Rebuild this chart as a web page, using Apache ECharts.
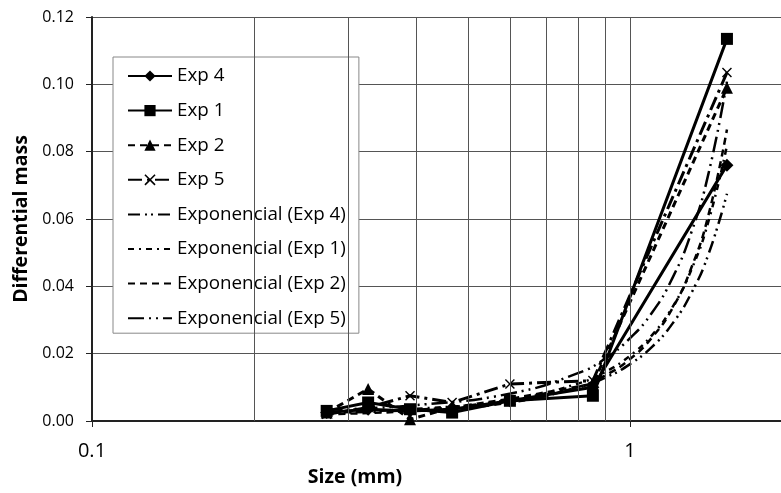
<!DOCTYPE html>
<html>
<head>
<meta charset="utf-8">
<script src="https://cdn.jsdelivr.net/npm/echarts@6/dist/echarts.min.js"></script>
<style>
html,body{margin:0;padding:0;background:#fff;}
#chart{width:781px;height:493px;}
</style>
</head>
<body>
<div id="chart"></div>
<script>
// Sizes (mm) of the measured points
var sizes = [0.273, 0.326, 0.39, 0.467, 0.598, 0.853, 1.514];
// Differential mass per experiment
var exp4 = [0.0025, 0.0035, 0.003, 0.0035, 0.006, 0.010, 0.076];
var exp1 = [0.003, 0.0055, 0.0035, 0.0025, 0.006, 0.0075, 0.1135];
var exp2 = [0.0025, 0.0095, 0.0005, 0.004, 0.0065, 0.011, 0.099];
var exp5 = [0.002, 0.004, 0.0075, 0.0055, 0.011, 0.012, 0.1035];
// Exponential trendlines at these sizes. The curves overlap too much in the picture
// to read one by one, so these values were worked out by hand from an exponential fit
// to the estimated points above, then checked against the picture (not read directly).
var trendSizes = [0.273, 0.4, 0.6, 0.8, 0.9, 1.0, 1.1, 1.2, 1.3, 1.4, 1.514];
var trend4 = [0.00239, 0.00336, 0.00575, 0.00986, 0.0129, 0.0169, 0.0221, 0.0290, 0.0380, 0.0497, 0.0675];
var trend1 = [0.00252, 0.00360, 0.00631, 0.0111, 0.0146, 0.0194, 0.0256, 0.0339, 0.0449, 0.0595, 0.0818];
var trend2 = [0.00206, 0.00302, 0.00552, 0.0101, 0.0136, 0.0184, 0.0249, 0.0336, 0.0455, 0.0614, 0.0866];
var trend5 = [0.00333, 0.00472, 0.00818, 0.0142, 0.0186, 0.0246, 0.0323, 0.0426, 0.0560, 0.0737, 0.1008];
// Vertical grid lines on the log axis
var xGridValues = [0.2, 0.3, 0.4, 0.5, 0.6, 0.7, 0.8, 0.9, 1, 2];
var xTickLabels = {"0.1": "0.1", "1": "1"};
var dataNames = ['Exp 4', 'Exp 1', 'Exp 2', 'Exp 5'];
var trendNames = ['Exponencial (Exp 4)', 'Exponencial (Exp 1)', 'Exponencial (Exp 2)', 'Exponencial (Exp 5)'];

function pairs(xs, ys) { return xs.map(function (x, i) { return [x, ys[i]]; }); }

var FONT = '"Open Sans"';
var X_SYMBOL = 'path://M0,1L1,0L5,4L9,0L10,1L6,5L10,9L9,10L5,6L1,10L0,9L4,5Z';

function dataSeries(name, ys, symbol, size, dash) {
  return {
    name: name, type: 'line', data: pairs(sizes, ys),
    symbol: symbol, symbolSize: size, showSymbol: true,
    itemStyle: { color: '#000' },
    lineStyle: { color: '#000', width: 3, type: dash },
    z: 3, animation: false
  };
}
function trendSeries(name, ys, dash) {
  return {
    name: name, type: 'line', data: pairs(trendSizes, ys),
    symbol: 'none', smooth: true,
    itemStyle: { color: '#000' },
    lineStyle: { color: '#000', width: 2.5, type: dash },
    z: 2, animation: false
  };
}

var series = [
  dataSeries(dataNames[0], exp4, 'diamond', 13, 'solid'),
  dataSeries(dataNames[1], exp1, 'rect', 12, 'solid'),
  dataSeries(dataNames[2], exp2, 'triangle', 12, [7, 5]),
  dataSeries(dataNames[3], exp5, X_SYMBOL, 10, [14, 5, 3, 5]),
  trendSeries(trendNames[0], trend4, [12, 5, 2, 4, 2, 5]),
  trendSeries(trendNames[1], trend1, [6, 5, 2, 5]),
  trendSeries(trendNames[2], trend2, [7, 5]),
  trendSeries(trendNames[3], trend5, [16, 5, 2, 5, 2, 5])
];
// grid lines helper
series.push({
  type: 'line', data: [], silent: true, z: 1,
  markLine: {
    silent: true, symbol: 'none', animation: false,
    label: { show: false },
    lineStyle: { color: '#555', width: 1, type: 'solid' },
    data: xGridValues.map(function (v) { return { xAxis: v }; })
  }
});

var legendData = dataNames.map(function (n) { return { name: n }; })
  .concat(trendNames.map(function (n) {
    return { name: n, itemStyle: { opacity: 0, color: 'rgba(0,0,0,0)', borderWidth: 0 } };
  }));

var chart = echarts.init(document.getElementById('chart'), null, { renderer: 'canvas' });
chart.setOption({
  backgroundColor: '#fff',
  animation: false,
  textStyle: { fontFamily: FONT },
  grid: { left: 92, top: 17, right: -11, bottom: 72, outerBoundsMode: 'none' },
  legend: {
    orient: 'vertical', left: 113, top: 57,
    padding: [9, 13, 5, 14],
    itemWidth: 44, itemHeight: 14, itemGap: 14.6,
    backgroundColor: '#fff', borderColor: '#888', borderWidth: 1,
    textStyle: { fontFamily: FONT, fontSize: 18.8, color: '#000', lineHeight: 20 },
    data: legendData
  },
  xAxis: {
    type: 'log', min: 0.1, max: 2, logBase: 10,
    name: 'Size (mm)', nameLocation: 'middle', nameGap: 46,
    nameTextStyle: { fontFamily: FONT, fontSize: 19.5, fontWeight: 'bold', color: '#000', padding: [0, 174, 0, 0] },
    axisLine: { show: true, lineStyle: { color: '#222', width: 2 } },
    axisTick: { show: true, length: 6, lineStyle: { color: '#222', width: 1 } },
    axisLabel: {
      fontFamily: FONT, fontSize: 20, color: '#000', margin: 20,
      formatter: function (v) {
        var k = String(Math.round(v * 1000) / 1000);
        return xTickLabels[k] || '';
      }
    },
    splitLine: { show: false },
    minorTick: { show: false }
  },
  yAxis: {
    type: 'value', min: 0, max: 0.12, interval: 0.02,
    name: 'Differential mass', nameLocation: 'middle', nameGap: 61, nameRotate: 90,
    nameTextStyle: { fontFamily: FONT, fontSize: 19.5, fontWeight: 'bold', color: '#000' },
    axisLine: { show: true, lineStyle: { color: '#222', width: 2 } },
    axisTick: { show: true, length: 6, lineStyle: { color: '#222', width: 1 } },
    axisLabel: {
      fontFamily: FONT, fontSize: 16, color: '#000', margin: 18,
      formatter: function (v) { return v.toFixed(2); }
    },
    splitLine: { show: true, lineStyle: { color: '#555', width: 1 } }
  },
  series: series
});
</script>
</body>
</html>
